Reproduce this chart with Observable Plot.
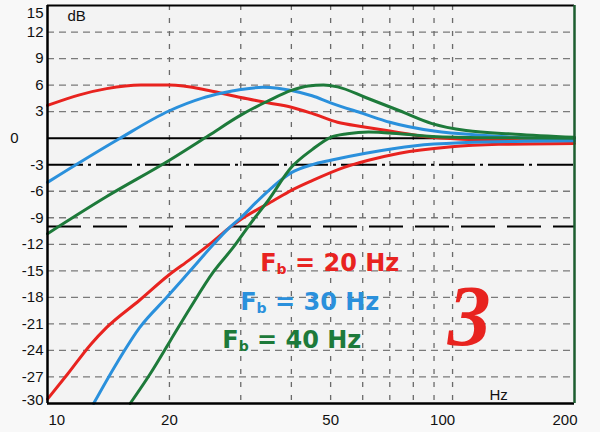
<!DOCTYPE html>
<html>
<head>
<meta charset="utf-8">
<script src="https://cdn.jsdelivr.net/npm/d3@7"></script>
<script src="https://cdn.jsdelivr.net/npm/@observablehq/plot@0.6"></script>
<style>
  html, body { margin: 0; padding: 0; background: #f8f8f8; }
  #chart { width: 600px; height: 432px; }
</style>
</head>
<body>
<div id="chart"></div>
<script>
// ---- data (frequency in Hz, level in dB) ----
const red20Upper = [[10,3.7],[12,4.9],[14,5.6],[17,6.0],[20,6.0],[25,5.4],[30,4.6],[35,4.0],[40,3.5],[45,2.8],[52,1.8],[60,1.3],[70,0.8],[89,0.1],[120,-0.2],[160,-0.3],[200,-0.3]];
const red20Lower = [[10,-29.5],[11.2,-26.7],[12.8,-23.3],[14,-21.4],[16.9,-18.3],[19.9,-15.5],[22.5,-13.7],[25.6,-11.7],[28,-10.2],[30,-9.2],[36,-7.1],[40,-5.9],[45,-4.8],[54,-3.3],[62,-2.5],[74,-1.7],[98,-1.0],[130,-0.7],[200,-0.6]];
const blue30Upper = [[10,-5.0],[15,-0.1],[20,3.1],[24,4.5],[27,5.1],[30,5.5],[34,5.75],[37,5.65],[40,5.4],[45,4.8],[50,4.0],[60,2.8],[70,1.8],[90,0.8],[120,0.3],[160,0.0],[200,-0.1]];
const blue30Lower = [[13,-30],[14.8,-25.5],[16.9,-21.4],[19.7,-18.0],[22.5,-15.0],[25.7,-12.0],[28,-10.2],[30,-9.0],[33,-7.1],[36,-5.5],[40,-3.9],[45,-3.0],[50,-2.5],[61,-1.7],[81,-0.85],[108,-0.5],[150,-0.35],[200,-0.3]];
const green40Upper = [[10,-10.8],[14,-6.6],[20,-2.5],[25,0.3],[30,2.6],[35,4.2],[40,5.4],[44,5.9],[48,6.0],[52,5.8],[61,4.6],[74,3.1],[89,1.65],[108,0.86],[143,0.45],[200,0.1]];
const green40Lower = [[16,-30],[17.9,-26.7],[20.1,-22.9],[22.5,-19.2],[25.7,-15.1],[28.8,-12.3],[32,-9.4],[35,-7.1],[40,-3.3],[45,-1.3],[50,0.1],[55,0.5],[62,0.7],[74,0.5],[89,0.2],[120,0.05],[200,0.0]];

const xGrid = [20,30,40,50,60,70,80,90,100];
const yGrid = [12,9,6,3,-6,-9,-12,-15,-18,-21,-24,-27];
const yTickLabels = [15,12,9,6,3,-3,-6,-9,-12,-15,-18,-21,-24,-27,-30];
const xTickLabels = [10,20,50,100,200];
const legendLabels = ["Fb = 20 Hz","Fb = 30 Hz","Fb = 40 Hz"];
const bigNumber = ["3"];

const RED = "#e8231f", BLUE = "#2a90dc", GREEN = "#1d7a3a";
const FONT = "Liberation Sans, Arial, sans-serif";

const lineOpts = (stroke) => ({x: d => d[0], y: d => d[1], stroke, strokeWidth: 3, curve: "monotone-x"});
const yAxisOpts = {tickSize: 0, tickPadding: 4, fontSize: 15, tickFormat: d => String(d), fill: "#111", label: null};
const xAxisOpts = {tickSize: 0, tickPadding: 11, fontSize: 15, fill: "#111", label: null};

const chart = Plot.plot({
  width: 600,
  height: 432,
  marginLeft: 47,
  marginRight: 26,
  marginTop: 5,
  marginBottom: 29,
  style: {background: "transparent", fontFamily: FONT},
  x: {type: "log", domain: [10, 200]},
  y: {domain: [-30, 15]},
  marks: [
    Plot.frame({fill: "#f3f3f3", stroke: "none"}),
    Plot.ruleY(yGrid, {stroke: "#7a7a7a", strokeWidth: 1.3, strokeDasharray: "7,5"}),
    Plot.ruleX(xGrid, {stroke: "#6a6a6a", strokeWidth: 1.3, strokeDasharray: "5,8"}),
    Plot.ruleY([0], {stroke: "#000", strokeWidth: 2}),
    Plot.ruleY([-3], {stroke: "#000", strokeWidth: 2, strokeDasharray: "36,5,3,5"}),
    Plot.ruleY([-10], {stroke: "#000", strokeWidth: 2, strokeDasharray: "34,12"}),
    Plot.line(red20Upper, lineOpts(RED)),
    Plot.line(red20Lower, lineOpts(RED)),
    Plot.line(blue30Upper, lineOpts(BLUE)),
    Plot.line(blue30Lower, lineOpts(BLUE)),
    Plot.line(green40Upper, lineOpts(GREEN)),
    Plot.line(green40Lower, lineOpts(GREEN)),
    // frame
    Plot.ruleX([10], {stroke: "#000", strokeWidth: 2.5}),
    Plot.ruleY([15], {stroke: "#000", strokeWidth: 2}),
    Plot.ruleY([-30], {stroke: "#000", strokeWidth: 2.5}),
    Plot.ruleX([200], {stroke: "#1d5e30", strokeWidth: 2.5}),
    // axes
    Plot.axisY(yTickLabels.filter(d => d !== 15 && d !== -30), yAxisOpts),
    Plot.axisY(yTickLabels.filter(d => d === 15), {...yAxisOpts, dy: 8}),
    Plot.axisY(yTickLabels.filter(d => d === -30), {...yAxisOpts, dy: -3}),
    Plot.axisY([0], {...yAxisOpts, tickPadding: 29}),
    Plot.axisX(xTickLabels.filter(d => d === 20 || d === 50), xAxisOpts),
    Plot.axisX(xTickLabels.filter(d => d === 10), {...xAxisOpts, textAnchor: "start", dx: 1}),
    Plot.axisX(xTickLabels.filter(d => d === 100), {...xAxisOpts, dx: -10}),
    Plot.axisX(xTickLabels.filter(d => d === 200), {...xAxisOpts, textAnchor: "end", dx: 3}),
    Plot.text(["dB"], {frameAnchor: "top-left", dx: 20, dy: 5, text: d => d, fontSize: 15, fill: "#111", textAnchor: "start", lineAnchor: "top"}),
    Plot.text(["Hz"], {frameAnchor: "bottom-left", dx: 442, dy: -4, text: d => d, fontSize: 15, fill: "#111", textAnchor: "start", lineAnchor: "bottom"}),
    // legend
    Plot.text([legendLabels[0]], {x: 33.5, y: -14.1, text: d => d, fill: RED, fontSize: 24, fontWeight: "bold", fontFamily: "DejaVu Sans", textAnchor: "start"}),
    Plot.text([legendLabels[1]], {x: 29.9, y: -18.6, text: d => d, fill: BLUE, fontSize: 24, fontWeight: "bold", fontFamily: "DejaVu Sans", textAnchor: "start"}),
    Plot.text([legendLabels[2]], {x: 27.0, y: -22.9, text: d => d, fill: GREEN, fontSize: 24, fontWeight: "bold", fontFamily: "DejaVu Sans", textAnchor: "start"}),
    Plot.text(bigNumber, {x: 110, y: -20.3, text: d => d, fill: RED, fontSize: 86, fontWeight: "bold", fontStyle: "italic", fontFamily: "Liberation Serif, serif", textAnchor: "middle"})
  ]
});

// render the "b" of Fb as a small subscript
chart.querySelectorAll("text").forEach(t => {
  const s = t.textContent;
  if (s.startsWith("Fb")) {
    t.textContent = "";
    const ns = "http://www.w3.org/2000/svg";
    const a = document.createElementNS(ns, "tspan"); a.textContent = "F";
    const b = document.createElementNS(ns, "tspan"); b.textContent = "b";
    b.setAttribute("font-size", "14"); b.setAttribute("dy", "3");
    const c = document.createElementNS(ns, "tspan"); c.textContent = s.slice(2);
    c.setAttribute("dy", "-3");
    t.append(a, b, c);
  }
});

document.getElementById("chart").append(chart);
</script>
</body>
</html>
